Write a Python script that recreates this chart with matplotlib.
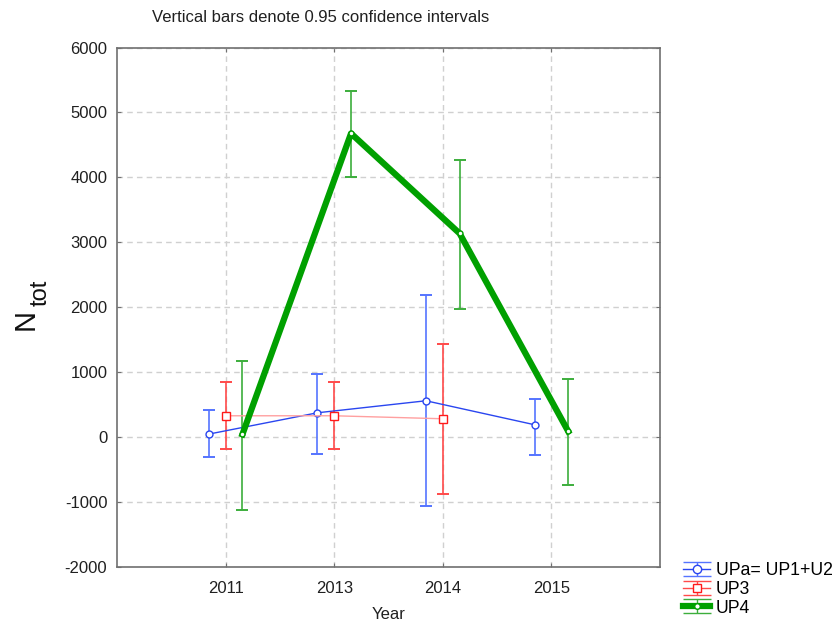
import matplotlib
matplotlib.use("Agg")
import matplotlib.pyplot as plt
from matplotlib.legend_handler import HandlerErrorbar
import numpy as np

plt.rcParams['font.family'] = ['Liberation Sans', 'DejaVu Sans']
plt.rcParams['axes.unicode_minus'] = False

years = ["2011", "2013", "2014", "2015"]

upa_mean = [50, 378, 563, 194]
upa_lo = [-298, -252, -1062, -272]
upa_hi = [425, 974, 2190, 594]

up3_mean = [332, 332, 286]
up3_lo = [-175, -175, -872]
up3_hi = [855, 855, 1435]
up3_idx = [0, 1, 2]

up4_mean = [46, 4677, 3138, 92]
up4_lo = [-1114, 4000, 1975, -729]
up4_hi = [1178, 5323, 4271, 897]

W, H = 836, 625
fig = plt.figure(figsize=(W/100, H/100), dpi=100)
ax = fig.add_axes([117/W, 1-567.3/H, (660-117)/W, (567.3-47.5)/H])

x = np.arange(len(years))
off = 0.155

def err(mean, lo, hi):
    m = np.array(mean); return [m - np.array(lo), np.array(hi) - m]

BLUE, BLUE_E = '#2a46f0', '#5574ff'
RED, RED_E, RED_L = '#ff1a1a', '#ff4a4a', '#ffa0a0'
GREEN, GREEN_E = '#00a000', '#3cae3c'

# UPa
xa = x - off
ax.errorbar(xa, upa_mean, yerr=err(upa_mean, upa_lo, upa_hi), fmt='none',
            ecolor=BLUE_E, elinewidth=1.2, capsize=4, capthick=1.4, zorder=2)
ax.plot(xa, upa_mean, color=BLUE, lw=1.0, marker='o', ms=5,
        mfc='white', mec=BLUE, mew=1.0, zorder=3)

# UP3
x3 = x[up3_idx]
ax.errorbar(x3, up3_mean, yerr=err(up3_mean, up3_lo, up3_hi), fmt='none',
            ecolor=RED_E, elinewidth=1.2, capsize=4, capthick=1.4, zorder=2)
ax.plot(x3, up3_mean, color=RED_L, lw=1.0, zorder=3)
ax.plot(x3, up3_mean, ls='none', marker='s', ms=5.2, mfc='white',
        mec=RED, mew=1.0, zorder=4)

# UP4
x4 = x + off
ax.errorbar(x4, up4_mean, yerr=err(up4_mean, up4_lo, up4_hi), fmt='none',
            ecolor=GREEN_E, elinewidth=1.2, capsize=4, capthick=1.4, zorder=2)
ax.plot(x4, up4_mean, color=GREEN, lw=4.5, zorder=3)
ax.plot(x4, up4_mean, ls='none', marker='o', ms=3.5, mfc='white',
        mec=GREEN, mew=1.0, zorder=4)

# legend-only handles
h1 = ax.errorbar([np.nan], [np.nan], yerr=[[1], [1]], color=BLUE, ecolor=BLUE_E, lw=1.0,
                 marker='o', ms=6, mfc='white', mec=BLUE, capsize=10, elinewidth=1.0)
h2 = ax.errorbar([np.nan], [np.nan], yerr=[[1], [1]], color=RED_E, ecolor=RED_E, lw=1.0,
                 marker='s', ms=6, mfc='white', mec=RED, capsize=10, elinewidth=1.0)
h3 = ax.errorbar([np.nan], [np.nan], yerr=[[1], [1]], color=GREEN, ecolor=GREEN_E, lw=4.5,
                 marker='o', ms=4, mfc='white', mec=GREEN, capsize=10, elinewidth=1.0)

ax.set_xlim(-1, 4)
ax.set_ylim(-2000, 6000)
ax.set_xticks(x)
ax.set_xticklabels(years)
ax.set_yticks(np.arange(-2000, 6001, 1000))
ax.grid(True, color='#d0d0d0', ls=(0, (4, 3)), lw=1.0)
ax.set_axisbelow(True)
for s in ax.spines.values():
    s.set_color('#707070')
    s.set_linewidth(1.2)
ax.tick_params(direction='in', length=3, color='#707070', labelsize=12,
               top=True, right=True, labelcolor='#202020')
ax.tick_params(axis='y', pad=7)
ax.tick_params(axis='x', pad=10)

ax.set_xlabel('Year', fontsize=12, color='#202020', labelpad=8)
fig.text(34/W, 1-319/H, 'N', rotation=90, rotation_mode='anchor',
         ha='center', va='baseline', fontsize=21, color='#111111')
fig.text(47/W, 1-292.5/H, 'tot', rotation=90, rotation_mode='anchor',
         ha='center', va='baseline', fontsize=17, color='#111111')
fig.text(321/W, 1-18/H, 'Vertical bars denote 0.95 confidence intervals',
         ha='center', va='center', fontsize=12, color='#202020')

fig.legend([h1, h2, h3], ['UPa= UP1+U2', 'UP3', 'UP4'],
           handler_map={h1: HandlerErrorbar(yerr_size=0.4),
                        h2: HandlerErrorbar(yerr_size=0.4),
                        h3: HandlerErrorbar(yerr_size=0.4)},
           loc='upper left', bbox_to_anchor=(683/W, 1-562/H), frameon=False,
           fontsize=12.7, handlelength=1.55, handletextpad=0.3, labelspacing=0.1,
           borderpad=0.0, borderaxespad=0)

fig.savefig('out.png', dpi=100)
